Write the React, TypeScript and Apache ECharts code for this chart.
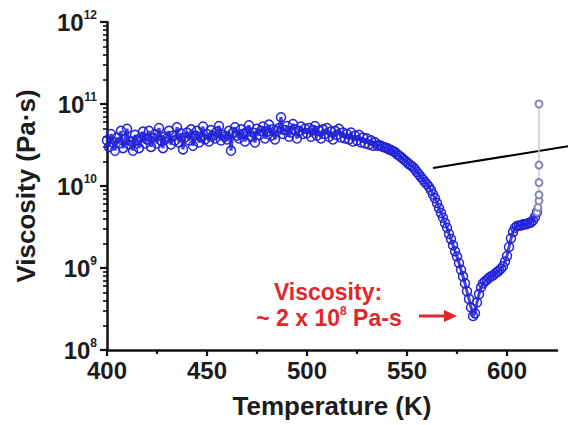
import React, { useEffect, useRef } from "react";
import * as echarts from "echarts";

const temperatureK = [
  400,401,402,403,404,405,406,407,408,409,410,411,412,413,414,415,416,417,418,419,
  420,421,422,423,424,425,426,427,428,429,430,431,432,433,434,435,436,437,438,439,
  440,441,442,443,444,445,446,447,448,449,450,451,452,453,454,455,456,457,458,459,
  460,461,462,463,464,465,466,467,468,469,470,471,472,473,474,475,476,477,478,479,
  480,481,482,483,484,485,486,487,488,489,490,491,492,493,494,495,496,497,498,499,
  500,501,502,503,504,505,506,507,508,509,510,511,512,513,514,515,516,517,518,519,
  520,521,522,523,524,525,526,527,528,529,530,531,532,533,534,535,
  536,537,538,539,540,541,542,543,544,545,546,547,548,549,550,551,552,553,554,555,
  556,557,558,559,560,561,562,563,564,565,566,567,568,569,570,571,572,573,574,575,
  576,577,578,579,580,581,582,583,
  584,585,586,587,588,589,590,591,592,593,594,595,596,597,598,599,600,601,602,603,
  604,605,606,607,608,609,610,611,612,613,614,615,
];

const viscosityPaS = [
  3.6e10,3.0e10,4.3e10,3.4e10,2.7e10,3.9e10,3.3e10,4.7e10,2.9e10,3.7e10,5.0e10,3.2e10,3.5e10,2.7e10,4.2e10,3.6e10,2.9e10,3.9e10,4.6e10,3.3e10,
  3.7e10,4.7e10,3.0e10,3.9e10,4.3e10,3.3e10,5.1e10,3.6e10,2.9e10,4.0e10,3.8e10,4.7e10,3.2e10,4.1e10,3.6e10,5.2e10,3.4e10,4.4e10,2.8e10,3.9e10,
  4.5e10,3.6e10,4.9e10,3.1e10,4.1e10,4.7e10,3.4e10,4.0e10,5.3e10,3.7e10,4.3e10,3.5e10,4.8e10,4.1e10,3.8e10,4.6e10,5.4e10,3.6e10,4.2e10,4.0e10,
  3.7e10,4.7e10,2.7e10,4.5e10,5.2e10,4.1e10,3.8e10,4.9e10,4.3e10,3.5e10,4.6e10,5.5e10,4.0e10,4.5e10,3.4e10,5.0e10,4.2e10,4.7e10,5.3e10,3.8e10,
  4.6e10,5.6e10,4.1e10,4.9e10,3.7e10,4.7e10,5.1e10,6.9e10,4.3e10,4.8e10,5.4e10,4.0e10,4.5e10,5.7e10,4.9e10,3.8e10,4.7e10,5.3e10,4.3e10,5.0e10,
  4.4e10,5.1e10,4.0e10,4.8e10,5.4e10,4.1e10,4.7e10,3.8e10,4.9e10,4.3e10,5.1e10,4.0e10,4.6e10,3.7e10,4.7e10,4.2e10,5.0e10,3.9e10,4.5e10,3.8e10,
  4.3e10,3.7e10,4.5e10,3.5e10,4.1e10,3.6e10,4.2e10,3.4e10,3.9e10,3.3e10,3.8e10,3.2e10,3.6e10,3.1e10,3.4e10,3.1e10,
  3.16e10,3.1e10,3.0e10,2.95e10,2.9e10,2.8e10,2.75e10,2.65e10,2.6e10,2.45e10,2.35e10,2.25e10,2.15e10,2.05e10,1.95e10,1.85e10,1.78e10,1.7e10,1.6e10,1.48e10,
  1.38e10,1.29e10,1.2e10,1.12e10,1.05e10,9.8e9,8.9e9,7.9e9,7.1e9,6.2e9,5.4e9,4.7e9,4.1e9,3.55e9,3.1e9,2.6e9,2.25e9,1.9e9,1.6e9,1.38e9,
  1.15e9,9.5e8,7.9e8,6.5e8,5.2e8,4.2e8,3.3e8,2.6e8,
  2.8e8,3.8e8,4.8e8,5.8e8,6.5e8,6.9e8,7.2e8,7.6e8,7.9e8,8.1e8,8.5e8,8.9e8,9.3e8,9.8e8,1.05e9,1.2e9,1.4e9,1.8e9,2.3e9,2.75e9,
  3.1e9,3.25e9,3.3e9,3.3e9,3.4e9,3.4e9,3.45e9,3.55e9,3.6e9,3.8e9,4.2e9,4.8e9,
];

const tailTemperatureK = [615, 615.5, 616, 616, 616, 616, 616];
const tailViscosityPaS = [4.8e9, 5.5e9, 6.6e9, 7.8e9, 1.1e10, 1.8e10, 1.0e11];

const xMajorTicks = [400, 450, 500, 550, 600];
const xMinorTicks = [425, 475, 525, 575];
const yDecades = [8, 9, 10, 11, 12];

const FONT = "'Liberation Sans', Arial, Helvetica, sans-serif";
const TXT = "#1c1c1c";
const BLUE = "#2222d8";
const RED = "#e3262c";

export default function App() {
  const ref = useRef<HTMLDivElement>(null);
  useEffect(() => {
    if (!ref.current) return;
    const chart = echarts.init(ref.current, undefined, { renderer: "svg" });
    const yMinorLogs: number[] = [];
    for (let i = 0; i < yDecades.length - 1; i++) {
      for (let k = 2; k <= 9; k++) yMinorLogs.push(yDecades[i] + Math.log10(k));
    }
    const mainData = temperatureK.map((t, i) => [t, viscosityPaS[i]]);
    const tailData = tailTemperatureK.map((t, i) => [t, tailViscosityPaS[i]]);
    chart.setOption({
      animation: false,
      backgroundColor: "#fff",
      textStyle: { fontFamily: FONT },
      grid: { left: 107, right: 11, top: 22, bottom: 75, containLabel: false },
      xAxis: [
        {
          type: "value",
          min: 400,
          max: 625,
          interval: 50,
          name: "Temperature (K)",
          nameLocation: "middle",
          nameGap: 43,
          nameTextStyle: { fontSize: 26, fontWeight: "bold", color: TXT, fontFamily: FONT },
          axisLine: { lineStyle: { color: "#111", width: 2.5 } },
          axisTick: { customValues: xMajorTicks, length: 6, lineStyle: { color: "#111", width: 2.2 } },
          axisLabel: {
            customValues: xMajorTicks,
            fontSize: 24,
            fontWeight: "bold",
            color: TXT,
            margin: 8,
            fontFamily: FONT,
          },
          splitLine: { show: false },
        },
        {
          type: "value",
          min: 400,
          max: 625,
          position: "bottom",
          axisLine: { show: false },
          axisTick: { customValues: xMinorTicks, length: 4, lineStyle: { color: "#111", width: 2.2 } },
          axisLabel: { show: false },
          splitLine: { show: false },
        },
      ],
      yAxis: [
        {
          type: "log",
          logBase: 10,
          min: 1e8,
          max: 1e12,
          name: "Viscosity (Pa·s)",
          nameLocation: "middle",
          nameGap: 68,
          nameRotate: 90,
          nameTextStyle: { fontSize: 26, fontWeight: "bold", color: TXT, fontFamily: FONT },
          axisLine: { lineStyle: { color: "#111", width: 2.5 } },
          axisTick: { length: 7, lineStyle: { color: "#111", width: 2.2 } },
          axisLabel: {
            margin: 10,
            formatter: (v: number) => `{b|10}{s|${Math.round(Math.log10(v))}}`,
            rich: {
              b: { fontSize: 24, fontWeight: "bold", color: TXT, fontFamily: FONT, lineHeight: 26 },
              s: { fontSize: 12, fontWeight: "bold", color: TXT, fontFamily: FONT, verticalAlign: "top", lineHeight: 14 },
            },
          },
          splitLine: { show: false },
        },
        {
          type: "value",
          min: 8,
          max: 12,
          position: "left",
          axisLine: { show: false },
          axisTick: { customValues: yMinorLogs, length: 4, lineStyle: { color: "#111", width: 1.6 } },
          axisLabel: { show: false },
          splitLine: { show: false },
        },
      ],
      series: [
        {
          type: "line",
          xAxisIndex: 0,
          yAxisIndex: 0,
          data: mainData,
          symbol: "circle",
          symbolSize: 9,
          showAllSymbol: true,
          lineStyle: { color: BLUE, width: 3, opacity: 0.85 },
          itemStyle: { color: "rgba(255,255,255,0)", borderColor: BLUE, borderWidth: 1.5 },
        },
        {
          type: "line",
          xAxisIndex: 0,
          yAxisIndex: 0,
          data: tailData,
          symbol: "emptyCircle",
          symbolSize: 7,
          lineStyle: { color: "#c9c9d6", width: 1.5 },
          itemStyle: { color: "#8686b8", borderWidth: 1.3 },
        },
      ],
      graphic: [
        {
          type: "line",
          shape: { x1: 433, y1: 168, x2: 570, y2: 146 },
          style: { stroke: "#000", lineWidth: 2 },
        },
        {
          type: "text",
          x: 328,
          y: 292,
          style: {
            text: "Viscosity:",
            fill: RED,
            font: `bold 23px ${FONT}`,
            align: "center",
            verticalAlign: "middle",
          },
        },
        {
          type: "text",
          x: 329,
          y: 318,
          style: {
            text: "{a|~ 2 x 10}{s|8}{a| Pa-s}",
            align: "center",
            verticalAlign: "middle",
            rich: {
              a: { fontSize: 23, fontWeight: "bold", fill: RED, color: RED, fontFamily: FONT, lineHeight: 26 },
              s: { fontSize: 12, fontWeight: "bold", fill: RED, color: RED, fontFamily: FONT, verticalAlign: "top", lineHeight: 13 },
            },
          },
        },
        {
          type: "line",
          shape: { x1: 419, y1: 316, x2: 447, y2: 316 },
          style: { stroke: RED, lineWidth: 3 },
        },
        {
          type: "polygon",
          shape: { points: [[444, 310], [457, 316], [444, 322]] },
          style: { fill: RED },
        },
      ],
    });
    return () => chart.dispose();
  }, []);
  return <div ref={ref} style={{ position: "fixed", left: 0, top: 0, width: 568, height: 425 }} />;
}
